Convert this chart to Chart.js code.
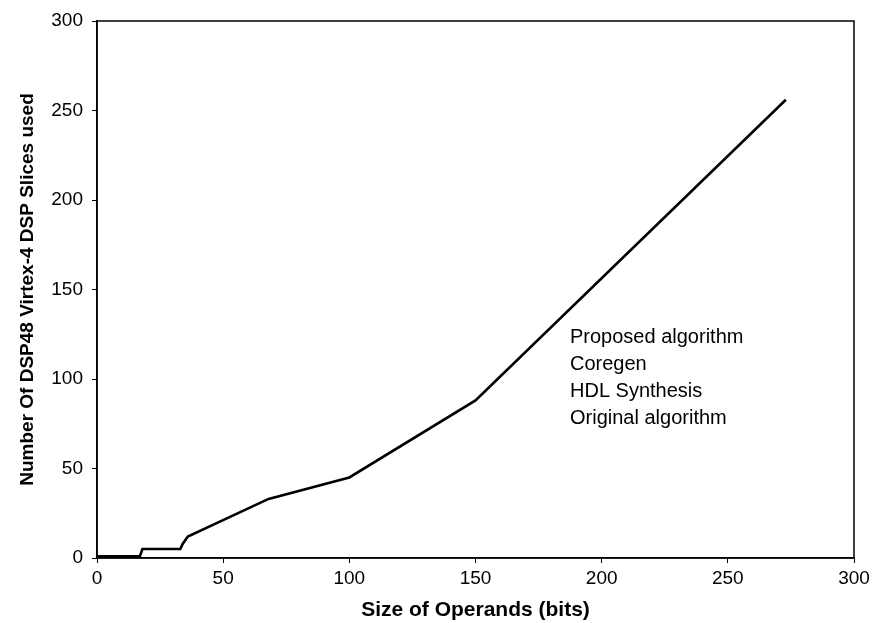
<!DOCTYPE html>
<html>
<head>
<meta charset="utf-8">
<script src="https://cdn.jsdelivr.net/npm/chart.js@4.4.1/dist/chart.umd.min.js"></script>
<style>
  html, body { margin: 0; padding: 0; background: #fff; }
  #wrap { width: 875px; height: 623px; }
</style>
</head>
<body>
<div id="wrap"><canvas id="c" width="875" height="623"></canvas></div>
<script>
// Operand width (bits) and DSP48 slices used
const operandBits = [0, 17, 18, 33, 34, 36, 68, 100, 150, 273];
const dspSlices   = [1, 1, 5, 5, 8, 12, 33, 45, 88, 256];

// Series names shown in the text legend inside the plot
const seriesNames = ['Proposed algorithm', 'Coregen', 'HDL Synthesis', 'Original algorithm'];

// Axis ticks
const xTicks = [0, 50, 100, 150, 200, 250, 300];
const yTicks = [0, 50, 100, 150, 200, 250, 300];

const FONT = '"Liberation Sans", Arial, sans-serif';

// Text-only legend drawn inside the plotting area
const textLegend = {
  id: 'textLegend',
  afterDatasetsDraw(chart) {
    const { ctx, chartArea } = chart;
    ctx.save();
    ctx.fillStyle = '#000';
    ctx.font = '20px ' + FONT;
    ctx.textBaseline = 'middle';
    ctx.textAlign = 'left';
    const x0 = chartArea.left + 473;
    const y0 = chartArea.top + 316;
    seriesNames.forEach((name, i) => {
      ctx.fillText(name, x0, y0 + i * 27);
    });
    ctx.restore();
  }
};

// Box around the plotting area
const frame = {
  id: 'frame',
  afterDraw(chart) {
    const { ctx, chartArea: a } = chart;
    ctx.save();
    ctx.strokeStyle = '#000';
    ctx.lineWidth = 1.5;
    ctx.strokeRect(a.left, a.top, a.right - a.left, a.bottom - a.top);
    ctx.restore();
  }
};

new Chart(document.getElementById('c'), {
  type: 'line',
  data: {
    datasets: [{
      label: seriesNames[0],
      data: operandBits.map((x, i) => ({ x, y: dspSlices[i] })),
      borderColor: '#000',
      borderWidth: 2.6,
      pointRadius: 0,
      tension: 0,
      fill: false
    }]
  },
  options: {
    responsive: false,
    animation: false,
    layout: { padding: { top: 21, right: 21, left: 0, bottom: 0 } },
    plugins: {
      legend: { display: false },
      tooltip: { enabled: false }
    },
    scales: {
      x: {
        type: 'linear',
        min: 0, max: 300,
        afterBuildTicks(s) { s.ticks = xTicks.map(v => ({ value: v })); },
        afterFit(s) { s.height = 65; },
        grid: { drawOnChartArea: false, drawTicks: true, tickLength: 5, color: '#000', lineWidth: 1 },
        border: { display: true, color: '#000', width: 1.5 },
        ticks: { color: '#000', font: { family: FONT, size: 19 }, padding: 4, maxRotation: 0 },
        title: {
          display: true,
          text: 'Size of Operands (bits)',
          color: '#000',
          font: { family: FONT, size: 21, weight: 'bold' },
          padding: { top: 0, bottom: 0 }
        }
      },
      y: {
        type: 'linear',
        min: 0, max: 300,
        afterBuildTicks(s) { s.ticks = yTicks.map(v => ({ value: v })); },
        afterFit(s) { s.width = 97; },
        grid: { drawOnChartArea: false, drawTicks: true, tickLength: 5, color: '#000', lineWidth: 1 },
        border: { display: true, color: '#000', width: 1.5 },
        ticks: { color: '#000', font: { family: FONT, size: 19 }, padding: 9 },
        title: {
          display: true,
          text: 'Number Of DSP48 Virtex-4 DSP Slices used',
          color: '#000',
          font: { family: FONT, size: 19, weight: 'bold' },
          padding: { top: 16, bottom: 0 }
        }
      }
    }
  },
  plugins: [textLegend, frame]
});
</script>
</body>
</html>
